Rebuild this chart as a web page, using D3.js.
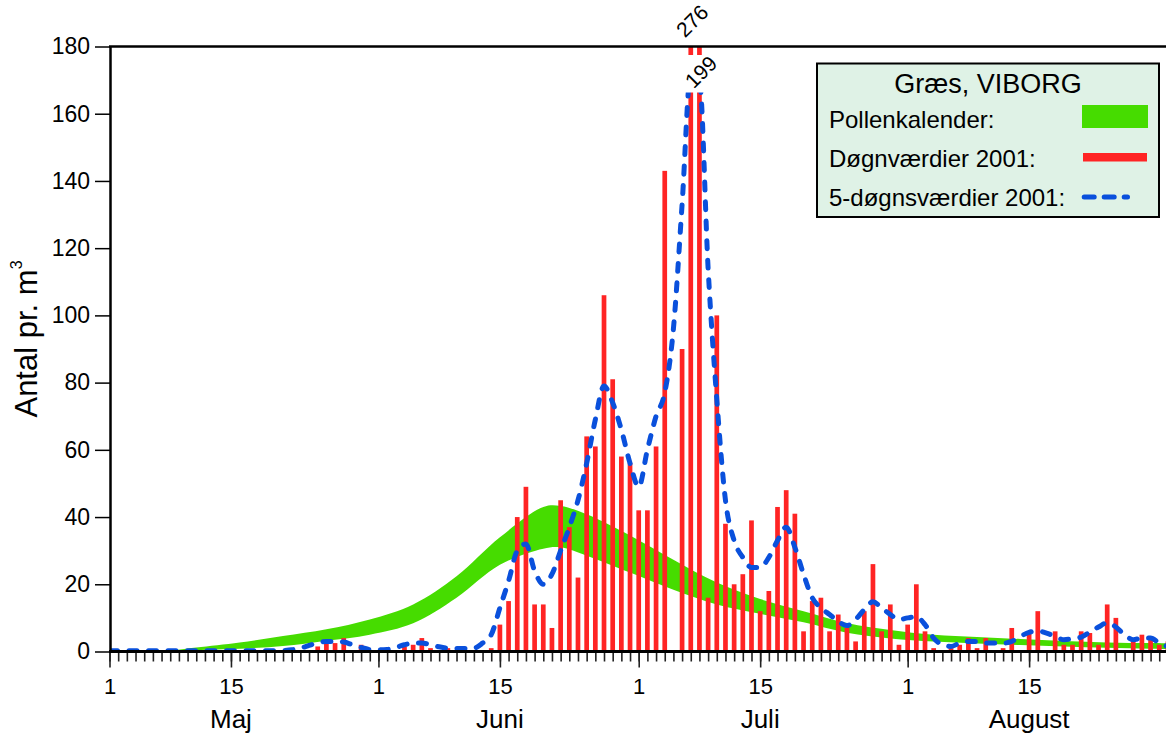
<!DOCTYPE html>
<html>
<head>
<meta charset="utf-8">
<script src="https://cdn.jsdelivr.net/npm/d3@7"></script>
<style>
  body { margin: 0; background: #fff; }
  svg { display: block; font-family: "Liberation Sans", Arial, sans-serif; }
</style>
</head>
<body>
<svg id="chart" width="1166" height="735"></svg>
<script>
// Day index 0 = 1 May 2001
const startDate = new Date(2001, 4, 1);

// Døgnværdier 2001 (one value per day, 1 May .. 31 Aug)
const dailyCounts = [
  0, 0, 0, 0, 0, 0, 0, 0, 0, 0,
  0, 0, 0, 0, 0, 0, 0, 0, 0, 0,
  0, 1, 0, 0, 1.5, 3, 2.5, 4, 0, 2,
  0, 0, 0, 0, 1.5, 2, 4, 1, 0, 1,
  0, 0, 0, 0, 1, 8, 15, 40, 49, 14,
  14, 7, 45, 37, 22, 64, 61, 106, 81, 58,
  56, 42, 42, 61, 143, 0, 90, 276, 199, 16,
  100, 38, 20, 23, 39, 12, 18, 43, 48, 41,
  6, 15, 16, 6, 11, 7, 3, 12, 26, 6,
  14, 2, 8, 20, 6, 1, 0, 1, 2, 4,
  1, 4, 0, 1, 7, 0, 6, 12, 0, 6,
  2, 2, 6, 5.5, 2, 14, 10, 0, 3.5, 5,
  3.5, 2, 3
];

// 5-døgnsværdier 2001 (same days)
const fiveDayCounts = [
  0.2, 0.2, 0.2, 0.2, 0.2, 0.2, 0.2, 0.2, 0.2, 0.2,
  0.2, 0.2, 0.2, 0.2, 0.2, 0.2, 0.2, 0.2, 0.2, 0.2,
  0.3, 0.5, 1, 1.8, 2.6, 3, 3, 2.8, 2, 1.2,
  0.6, 0.5, 0.6, 1.2, 2, 2.5, 2.5, 2, 1.4, 1,
  0.9, 0.9, 1, 2.5, 5, 13, 21, 30, 32, 24,
  20, 23, 30, 37, 45, 56, 69, 79, 74, 66,
  56, 49, 60, 70, 77, 96, 133, 172, 170, 114,
  75, 45, 33, 28, 25, 25, 28, 33, 37, 31,
  23, 16, 13, 11, 9, 7.7, 9.5, 12.5, 14.8, 13,
  11, 9.5, 10, 10.3, 8, 4, 2, 1.5, 2.5, 3,
  3, 2.5, 2.5, 2.5, 3, 4.5, 5.7, 6.1, 5.5, 4.5,
  3.5, 3.8, 4.3, 5.8, 7.3, 8.5, 7.3, 5, 3.5, 4,
  4, 2.5, 1.5
];

// Pollenkalender band (lower / upper edge)
const calendarDays = [5, 7, 10, 15, 20, 25, 30, 35, 40, 45, 50, 52, 55, 60, 65, 70, 75, 80, 85, 90, 95, 100, 105, 110, 115, 120, 124];
const calendarLow  = [0, 0, 0.4, 0.8, 1.6, 3.2, 5, 8.4, 16, 25.8, 30.6, 31, 28.5, 23.5, 18.4, 14, 11.2, 8.7, 5.6, 3.9, 3, 2.4, 1.9, 1.5, 1.1, 0.8, 0.7];
const calendarHigh = [0, 0.3, 1.2, 2.7, 4.6, 6.6, 9.5, 14, 22.4, 34, 43, 43.3, 40.8, 34.5, 27.3, 20.5, 15.6, 12, 8.5, 6.4, 5, 4.3, 3.7, 3.1, 2.7, 2.5, 2.4];

const yTicks = [0, 20, 40, 60, 80, 100, 120, 140, 160, 180];
const monthNames = ['Maj', 'Juni', 'Juli', 'August'];
const legendItems = ['Pollenkalender:', 'Døgnværdier 2001:', '5-døgnsværdier 2001:'];

const green = '#46dc00';
const red = '#ff2424';
const blue = '#0a50dc';

const dayIndex = (month, day) => d3.timeDay.count(startDate, new Date(2001, month, day));

const x = d3.scaleLinear().domain([0, 123]).range([109.5, 1176.6]);
const y = d3.scaleLinear().domain([0, 180]).range([651.5, 46.5]);

const svg = d3.select('#chart');

svg.append('defs').append('clipPath').attr('id', 'plot-clip')
  .append('rect')
  .attr('x', 110).attr('y', 46.5)
  .attr('width', 1080).attr('height', 605);

const plot = svg.append('g').attr('clip-path', 'url(#plot-clip)');

// 1) pollen calendar band
const calendar = calendarDays.map((d, i) => ({ day: d, low: calendarLow[i], high: calendarHigh[i] }));
plot.append('path')
  .datum(calendar)
  .attr('fill', green)
  .attr('d', d3.area()
    .x(d => x(d.day))
    .y0(d => y(d.low))
    .y1(d => y(d.high))
    .curve(d3.curveCatmullRom.alpha(0.5)));

// 2) daily bars
const bars = dailyCounts.map((v, i) => ({ day: i, value: v })).filter(d => d.value > 0);
plot.selectAll('rect.bar')
  .data(bars)
  .join('rect')
  .attr('class', 'bar')
  .attr('x', d => x(d.day) - 2.35)
  .attr('width', 4.7)
  .attr('y', d => y(Math.min(d.value, 185)))
  .attr('height', d => y(0) - y(Math.min(d.value, 185)))
  .attr('fill', red);

// 3) 5-day line
plot.append('path')
  .datum(fiveDayCounts)
  .attr('fill', 'none')
  .attr('stroke', blue)
  .attr('stroke-width', 5)
  .attr('stroke-linecap', 'round')
  .attr('stroke-dasharray', '8,11.5')
  .attr('d', d3.line()
    .x((d, i) => x(i))
    .y(d => y(d))
    .curve(d3.curveMonotoneX));

// values beyond the axis get a rotated label
const overflow = bars.filter(d => d.value > 180);
const labelY = [21, 72];
overflow.forEach((d, i) => {
  const cx = x(d.day) + 1.5;
  if (i > 0) {
    svg.append('rect')
      .attr('x', cx - 18).attr('y', 55)
      .attr('width', 34).attr('height', 37.5)
      .attr('fill', '#fff');
  }
  svg.append('text')
    .attr('transform', `translate(${cx},${labelY[i]}) rotate(-45)`)
    .attr('text-anchor', 'middle')
    .attr('dy', '0.35em')
    .attr('font-size', 21)
    .text(d.value);
});

// 4) axes
const minorDays = d3.range(0, 123);
const majorDays = [];
[4, 5, 6, 7].forEach(m => { majorDays.push(dayIndex(m, 1), dayIndex(m, 15)); });

const xMinor = svg.append('g')
  .attr('transform', 'translate(0,651.5)')
  .call(d3.axisBottom(x).tickValues(minorDays).tickSize(10).tickSizeOuter(0).tickFormat(''));

const xMajor = svg.append('g')
  .attr('transform', 'translate(0,651.5)')
  .call(d3.axisBottom(x)
    .tickValues(majorDays)
    .tickSize(16)
    .tickSizeOuter(0)
    .tickPadding(10.5)
    .tickFormat(d => d3.timeDay.offset(startDate, d).getDate()));

[xMinor, xMajor].forEach(g => {
  g.select('.domain').remove();
  g.selectAll('.tick line').attr('stroke', '#222').attr('stroke-width', 1.6);
});
xMajor.selectAll('.tick text').attr('font-size', 22).attr('fill', '#000');

// month names under the 15th
svg.append('g')
  .selectAll('text')
  .data(monthNames)
  .join('text')
  .attr('x', (d, i) => x(dayIndex(4 + i, 15)))
  .attr('y', 728)
  .attr('text-anchor', 'middle')
  .attr('font-size', 26)
  .text(d => d);

const yAxis = svg.append('g')
  .attr('transform', 'translate(110,0)')
  .call(d3.axisLeft(y).tickValues(yTicks).tickSize(15).tickSizeOuter(0).tickPadding(5));
yAxis.select('.domain').attr('stroke-width', 2.5);
yAxis.selectAll('.tick line').attr('stroke-width', 1.5);
yAxis.selectAll('.tick text').attr('font-size', 23).attr('fill', '#000');

// bottom and top frame lines
svg.append('line')
  .attr('x1', 109).attr('x2', 1166)
  .attr('y1', 651.5).attr('y2', 651.5)
  .attr('stroke', '#000').attr('stroke-width', 3);
svg.append('line')
  .attr('x1', 109).attr('x2', 1166)
  .attr('y1', 46.5).attr('y2', 46.5)
  .attr('stroke', '#000').attr('stroke-width', 2.3);

// y title
const yTitle = svg.append('text')
  .attr('transform', 'translate(37,339) rotate(-90)')
  .attr('text-anchor', 'middle')
  .attr('font-size', 31);
yTitle.append('tspan').text('Antal pr. m');
yTitle.append('tspan').attr('font-size', 16).attr('dy', -15).text('3');

// 5) legend
const legend = svg.append('g');
legend.append('rect')
  .attr('x', 817).attr('y', 63.5)
  .attr('width', 342).attr('height', 153.5)
  .attr('fill', '#dff2e6')
  .attr('stroke', '#000')
  .attr('stroke-width', 2);
legend.append('text')
  .attr('x', 988).attr('y', 93)
  .attr('text-anchor', 'middle')
  .attr('font-size', 27)
  .text('Græs, VIBORG');
legend.selectAll('text.item')
  .data(legendItems)
  .join('text')
  .attr('class', 'item')
  .attr('x', 829)
  .attr('y', (d, i) => 128 + i * 39)
  .attr('font-size', 24)
  .text(d => d);
legend.append('rect')
  .attr('x', 1082).attr('y', 105)
  .attr('width', 66).attr('height', 23)
  .attr('fill', green);
legend.append('rect')
  .attr('x', 1083).attr('y', 153)
  .attr('width', 64).attr('height', 8.5)
  .attr('fill', red);
legend.append('line')
  .attr('x1', 1084.2).attr('x2', 1127.5)
  .attr('y1', 197).attr('y2', 197)
  .attr('stroke', blue)
  .attr('stroke-width', 5)
  .attr('stroke-linecap', 'round')
  .attr('stroke-dasharray', '10,10');
</script>
</body>
</html>
